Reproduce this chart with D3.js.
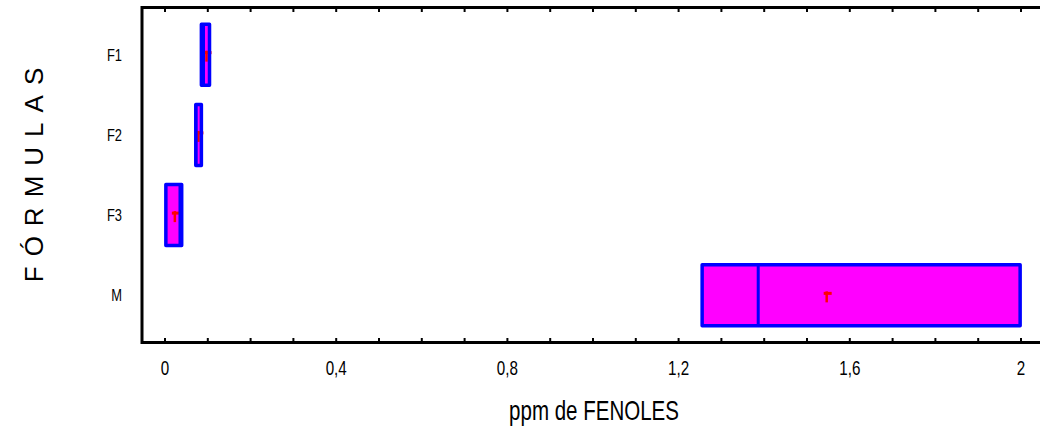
<!DOCTYPE html>
<html><head><meta charset="utf-8">
<script src="https://cdn.jsdelivr.net/npm/d3@7"></script>
<style>
html,body{margin:0;padding:0;background:#fff;}
svg{display:block;}
.narrow{font-family:"Liberation Sans",Arial,sans-serif;}
</style></head>
<body>
<svg id="chart" width="1040" height="432"></svg>
<script>
// ---- data ----
const categories = ["F1", "F2", "F3", "M"];
const q1Values     = [0.085, 0.072, 0.002, 1.255];
const medianValues = [0.090, 0.072, 0.035, 1.386];
const q3Values     = [0.104, 0.085, 0.039, 1.998];
const meanValues   = [0.097, 0.078, 0.023, 1.546];
const xTickValues  = [0, 0.4, 0.8, 1.2, 1.6, 2];
const xTickLabels  = ["0", "0,4", "0,8", "1,2", "1,6", "2"];
const xMinorTicks  = d3.range(0, 21).map(i => i / 10);
const xTitle = "ppm de FENOLES";
const yTitle = "FÓRMULAS";

const svg = d3.select("#chart");
const W = 1040, H = 432;
const frame = {left: 142, top: 7.5, bottom: 342.5};
const squeeze = 0.76;

const x = d3.scaleLinear().domain([0, 2]).range([165, 1021]);
const y = d3.scalePoint().domain(categories).range([frame.top, frame.bottom]).padding(0.5875);
const boxH = 61;

const rows = categories.map((c, i) => ({
  cat: c, q1: q1Values[i], med: medianValues[i], q3: q3Values[i], mean: meanValues[i]
}));

// frame lines
svg.append("line").attr("x1", frame.left).attr("x2", W + 5).attr("y1", frame.top).attr("y2", frame.top)
  .attr("stroke", "#000").attr("stroke-width", 3);
svg.append("line").attr("x1", frame.left).attr("x2", W + 5).attr("y1", frame.bottom).attr("y2", frame.bottom)
  .attr("stroke", "#000").attr("stroke-width", 3);
svg.append("line").attr("x1", frame.left).attr("x2", frame.left).attr("y1", frame.top - 1.5).attr("y2", frame.bottom + 1.5)
  .attr("stroke", "#000").attr("stroke-width", 3);

// ticks (inward, top and bottom)
const tickG = svg.append("g");
tickG.selectAll("line.tb").data(xMinorTicks).join("line")
  .attr("x1", d => x(d)).attr("x2", d => x(d))
  .attr("y1", frame.bottom).attr("y2", frame.bottom - 4.5)
  .attr("stroke", "#000").attr("stroke-width", 2);
tickG.selectAll("line.tt").data(xMinorTicks).join("line")
  .attr("x1", d => x(d)).attr("x2", d => x(d))
  .attr("y1", frame.top).attr("y2", frame.top + 4.5)
  .attr("stroke", "#000").attr("stroke-width", 2);

// tick labels (condensed look via horizontal squeeze)
svg.append("g").selectAll("text").data(xTickValues).join("text")
  .attr("class", "narrow")
  .attr("transform", d => `translate(${x(d)},375) scale(${squeeze},1)`)
  .attr("text-anchor", "middle")
  .attr("font-size", 20)
  .attr("fill", "#000")
  .text((d, i) => xTickLabels[i]);

// category labels
svg.append("g").selectAll("text").data(categories).join("text")
  .attr("class", "narrow")
  .attr("transform", d => `translate(122,${y(d) + 6}) scale(${squeeze},1)`)
  .attr("text-anchor", "end")
  .attr("font-size", 17)
  .attr("fill", "#000")
  .text(d => d);

// boxes
const g = svg.append("g");
g.selectAll("rect.fill").data(rows).join("rect")
  .attr("x", d => x(d.q1)).attr("width", d => x(d.q3) - x(d.q1))
  .attr("y", d => y(d.cat) - boxH / 2).attr("height", boxH)
  .attr("fill", "#ff00ff");

// mean markers
rows.forEach(d => {
  const cx = x(d.mean), cy = y(d.cat);
  g.append("line").attr("x1", cx).attr("x2", cx).attr("y1", cy - 4).attr("y2", cy + 7)
    .attr("stroke", "#ff0000").attr("stroke-width", 2.5);
  g.append("line").attr("x1", cx - 3).attr("x2", cx + 5).attr("y1", cy - 2).attr("y2", cy - 2)
    .attr("stroke", "#ff0000").attr("stroke-width", 3);
});

g.selectAll("rect.stroke").data(rows).join("rect")
  .attr("x", d => x(d.q1)).attr("width", d => x(d.q3) - x(d.q1))
  .attr("y", d => y(d.cat) - boxH / 2).attr("height", boxH)
  .attr("fill", "none").attr("stroke", "#0000ff").attr("stroke-width", 3.5)
  .attr("stroke-linejoin", "round");

g.selectAll("line.med").data(rows).join("line")
  .attr("x1", d => x(d.med)).attr("x2", d => x(d.med))
  .attr("y1", d => y(d.cat) - boxH / 2).attr("y2", d => y(d.cat) + boxH / 2)
  .attr("stroke", "#0000ff").attr("stroke-width", 3);

// titles
svg.append("text").attr("class", "narrow")
  .attr("transform", `translate(594,420) scale(${squeeze},1)`)
  .attr("text-anchor", "middle").attr("font-size", 27).attr("fill", "#000")
  .text(xTitle);

svg.append("text")
  .attr("transform", "translate(43,170) rotate(-90)")
  .attr("text-anchor", "middle")
  .attr("font-family", "'Liberation Sans', Arial, sans-serif")
  .attr("font-size", 26)
  .attr("letter-spacing", 10)
  .attr("fill", "#000")
  .text(yTitle);
</script>
</body></html>
